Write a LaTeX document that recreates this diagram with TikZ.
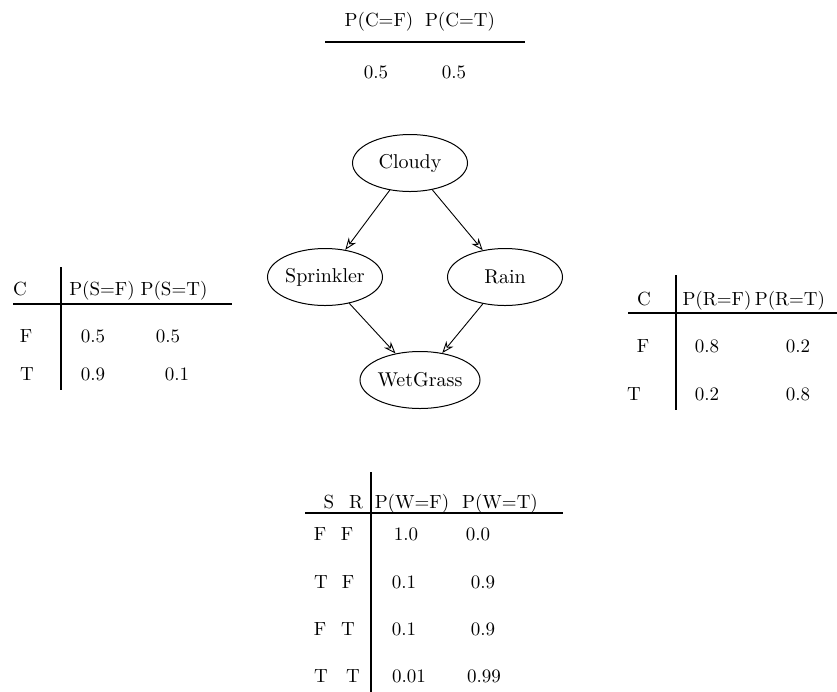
\documentclass[tikz,border=0pt]{standalone}
\usepackage{amsmath}
\usepackage{tikz}
\usetikzlibrary{shapes.geometric,arrows.meta}

\begin{document}
\begin{tikzpicture}[x=0.5pt,y=-0.5pt,
    var/.style={ellipse,draw,line width=0.5pt,minimum width=57.5pt,minimum height=28.5pt,inner sep=0pt},
    cell/.style={anchor=base,inner sep=0pt,font=\fontsize{9.5}{11}\selectfont},
    link/.style={line width=0.45pt,-{Stealth[open,length=6pt,width=4.5pt]}},
    rule/.style={line width=0.6pt}]
  \useasboundingbox (0,0) rectangle (837,692);
  % the network
  \node[var] (cloudy) at (410,163) {Cloudy};
  \node[var] (sprinkler) at (325,277) {Sprinkler};
  \node[var] (rain) at (505,277) {Rain};
  \node[var] (wet) at (420,380) {WetGrass};
  \draw[link] (cloudy) -- (sprinkler);
  \draw[link] (cloudy) -- (rain);
  \draw[link] (sprinkler) -- (wet);
  \draw[link] (rain) -- (wet);
  % table for C
  \node[cell] (cf) at (379,26) {P(C=F)};
  \node[cell] (ct) at (460,26) {P(C=T)};
  \draw[rule] (325,42) -- (525,42);
  \node[cell] (cf1) at (376,78) {0.5};
  \node[cell] (ct1) at (454,78) {0.5};
  % table for S given C
  \node[cell] (sc) at (20,295) {C};
  \node[cell] (sf) at (102,295) {P(S=F)};
  \node[cell] (st) at (174,295) {P(S=T)};
  \draw[rule] (61,267) -- (61,390);
  \draw[rule] (13,304) -- (232,304);
  \node[cell] (sc1) at (26,342) {F};
  \node[cell] (sf1) at (93,342) {0.5};
  \node[cell] (st1) at (168,342) {0.5};
  \node[cell] (sc2) at (27,380) {T};
  \node[cell] (sf2) at (93,380) {0.9};
  \node[cell] (st2) at (177,380) {0.1};
  % table for R given C
  \node[cell] (rc) at (644,305) {C};
  \node[cell] (rf) at (717,305) {P(R=F)};
  \node[cell] (rt) at (790,305) {P(R=T)};
  \draw[rule] (676,275) -- (676,410);
  \draw[rule] (628,313) -- (837,313);
  \node[cell] (rc1) at (643,352) {F};
  \node[cell] (rf1) at (707,352) {0.8};
  \node[cell] (rt1) at (798,352) {0.2};
  \node[cell] (rc2) at (634,400) {T};
  \node[cell] (rf2) at (707,400) {0.2};
  \node[cell] (rt2) at (798,400) {0.8};
  % table for W given S and R
  \node[cell] (ws) at (329,508) {S};
  \node[cell] (wr) at (356,508) {R};
  \node[cell] (wf) at (412,508) {P(W=F)};
  \node[cell] (wt) at (500,508) {P(W=T)};
  \draw[rule] (371,472) -- (371,692);
  \draw[rule] (305,513) -- (563,513);
  \node[cell] (ws1) at (320,540) {F};
  \node[cell] (wr1) at (347,540) {F};
  \node[cell] (wf1) at (406,540) {1.0};
  \node[cell] (wt1) at (478,540) {0.0};
  \node[cell] (ws2) at (321,588) {T};
  \node[cell] (wr2) at (348,588) {F};
  \node[cell] (wf2) at (404,588) {0.1};
  \node[cell] (wt2) at (483,588) {0.9};
  \node[cell] (ws3) at (320,635) {F};
  \node[cell] (wr3) at (348,635) {T};
  \node[cell] (wf3) at (404,635) {0.1};
  \node[cell] (wt3) at (483,635) {0.9};
  \node[cell] (ws4) at (321,682) {T};
  \node[cell] (wr4) at (353,682) {T};
  \node[cell] (wf4) at (409,682) {0.01};
  \node[cell] (wt4) at (484,682) {0.99};
\end{tikzpicture}
\end{document}
